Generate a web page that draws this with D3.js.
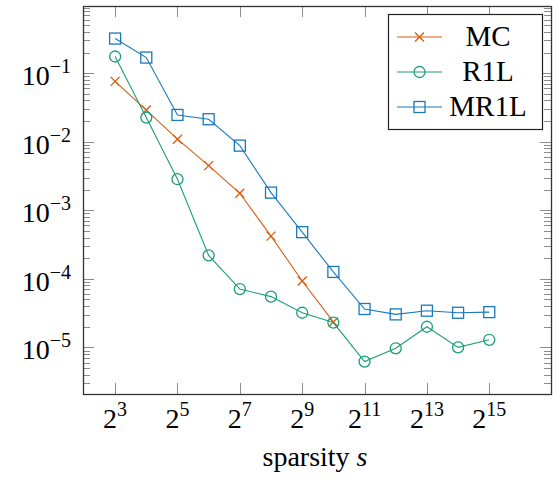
<!DOCTYPE html>
<html>
<head>
<meta charset="utf-8">
<script src="https://cdn.jsdelivr.net/npm/d3@7"></script>
<style>
  body { margin: 0; background: #fff; }
  text { font-family: "Liberation Serif", "DejaVu Serif", serif; fill: #000; }
</style>
</head>
<body>
<div id="chart"></div>
<script>
// error vs sparsity, log-log, three methods

var sparsity = [8, 16, 32, 64, 128, 256, 512, 1024, 2048, 4096, 8192, 16384, 32768];
var mcValues = [0.076, 0.029, 0.0109, 0.00448, 0.00177, 4.2e-4, 9.3e-5, 2.35e-5];
var r1lValues = [0.175, 0.0225, 0.00284, 2.2e-4, 7.1e-5, 5.5e-5, 3.2e-5, 2.3e-5, 6.2e-6, 9.7e-6, 2.0e-5, 1.0e-5, 1.29e-5];
var mr1lValues = [0.32, 0.169, 0.0246, 0.0213, 0.00877, 0.00181, 4.8e-4, 1.26e-4, 3.63e-5, 3.03e-5, 3.43e-5, 3.2e-5, 3.27e-5];
var xTickExps = [3, 5, 7, 9, 11, 13, 15];
var yTickExps = [-5, -4, -3, -2, -1];
var seriesNames = ['MC', 'R1L', 'MR1L'];

var width = 556;
var height = 479;
var plotLeft = 83, plotRight = 551, plotTop = 6, plotBottom = 394;
var colors = { MC: '#d95c12', R1L: '#1b9e77', MR1L: '#1a78bd' };

var svg = d3.select('#chart').append('svg')
      .attr('width', width)
      .attr('height', height)

var xScale = d3.scaleLog().base(2)
      .domain([Math.pow(2, 1.97), Math.pow(2, 16.98)])
      .range([plotLeft, plotRight])

var yScale = d3.scaleLog()
      .domain([Math.pow(10, -5.68), Math.pow(10, -0.02)])
      .range([plotBottom, plotTop])

// minor y ticks 2..9 x 10^k inside the domain
var yMinor = [];
for (let k = -6; k <= 0; k++) {
      for (let m = 2; m <= 9; m++) {
            let v = m * Math.pow(10, k);
            if (v > yScale.domain()[0] && v < yScale.domain()[1]) yMinor.push(v);
      }
}
var yMajor = yTickExps.map(e => Math.pow(10, e));
var xMajor = xTickExps.map(e => Math.pow(2, e));

var ticks = svg.append('g').attr('stroke', '#8c8c8c').attr('stroke-width', 1)

// y ticks, left and right, pointing inward
yMinor.forEach(function(v) {
      let y = Math.round(yScale(v)) + 0.5;
      ticks.append('line').attr('x1', plotLeft).attr('x2', plotLeft + 7).attr('y1', y).attr('y2', y)
      ticks.append('line').attr('x1', plotRight).attr('x2', plotRight - 7).attr('y1', y).attr('y2', y)
})
yMajor.forEach(function(v) {
      let y = Math.round(yScale(v)) + 0.5;
      ticks.append('line').attr('x1', plotLeft).attr('x2', plotLeft + 11).attr('y1', y).attr('y2', y)
      ticks.append('line').attr('x1', plotRight).attr('x2', plotRight - 11).attr('y1', y).attr('y2', y)
})
// x ticks, bottom and top
xMajor.forEach(function(v) {
      let x = Math.round(xScale(v)) + 0.5;
      ticks.append('line').attr('x1', x).attr('x2', x).attr('y1', plotBottom).attr('y2', plotBottom - 11)
      ticks.append('line').attr('x1', x).attr('x2', x).attr('y1', plotTop).attr('y2', plotTop + 11)
})

// frame
svg.append('rect')
      .attr('x', plotLeft + 0.5).attr('y', plotTop + 0.5)
      .attr('width', plotRight - plotLeft).attr('height', plotBottom - plotTop)
      .attr('fill', 'none')
      .attr('stroke', '#333')
      .attr('stroke-width', 1.3)

// y tick labels 10^k
yTickExps.forEach(function(e) {
      let t = svg.append('text')
            .attr('x', 71)
            .attr('y', yScale(Math.pow(10, e)) + 12)
            .attr('text-anchor', 'end')
            .style('font-size', '28px')
      t.append('tspan').text('10')
      t.append('tspan').attr('dy', -12).style('font-size', '20px').text('\u2212' + Math.abs(e))
})

// x tick labels 2^k
xTickExps.forEach(function(e) {
      let t = svg.append('text')
            .attr('x', xScale(Math.pow(2, e)))
            .attr('y', 428)
            .attr('text-anchor', 'middle')
            .style('font-size', '28px')
      t.append('tspan').text('2')
      t.append('tspan').attr('dy', -12).style('font-size', '20px').text(e)
})

// axis label
var xl = svg.append('text')
      .attr('x', (plotLeft + plotRight) / 2 - 2)
      .attr('y', 466)
      .attr('text-anchor', 'middle')
      .style('font-size', '28px')
xl.append('tspan').text('sparsity ')
xl.append('tspan').style('font-style', 'italic').text('s')

function drawMarker(g, name, x, y) {
      if (name === 'MC') {
            g.append('path')
                  .attr('d', 'M' + (x - 4.5) + ',' + (y - 4.5) + 'L' + (x + 4.5) + ',' + (y + 4.5) +
                        'M' + (x - 4.5) + ',' + (y + 4.5) + 'L' + (x + 4.5) + ',' + (y - 4.5))
                  .attr('stroke', colors[name]).attr('stroke-width', 1.3).attr('fill', 'none')
      } else if (name === 'R1L') {
            g.append('circle').attr('cx', x).attr('cy', y).attr('r', 5.5)
                  .attr('stroke', colors[name]).attr('stroke-width', 1.3).attr('fill', 'none')
      } else {
            g.append('rect').attr('x', x - 5.5).attr('y', y - 5.5).attr('width', 11).attr('height', 11)
                  .attr('stroke', colors[name]).attr('stroke-width', 1.3).attr('fill', 'none')
      }
}

var line = d3.line()
      .x(d => xScale(d[0]))
      .y(d => yScale(d[1]))

var seriesData = {
      MC: mcValues.map((v, i) => [sparsity[i], v]),
      R1L: r1lValues.map((v, i) => [sparsity[i], v]),
      MR1L: mr1lValues.map((v, i) => [sparsity[i], v])
};

seriesNames.forEach(function(name) {
      let g = svg.append('g')
      g.append('path')
            .datum(seriesData[name])
            .attr('d', line)
            .attr('fill', 'none')
            .attr('stroke', colors[name])
            .attr('stroke-width', 1.1)
      seriesData[name].forEach(d => drawMarker(g, name, xScale(d[0]), yScale(d[1])))
})

// legend
var legend = svg.append('g')
legend.append('rect')
      .attr('x', 388.5).attr('y', 14.5)
      .attr('width', 154).attr('height', 115)
      .attr('fill', '#fff')
      .attr('stroke', '#222')
      .attr('stroke-width', 1.2)
var legendY = [37, 72, 107];
seriesNames.forEach(function(name, i) {
      let y = legendY[i];
      legend.append('line')
            .attr('x1', 397).attr('x2', 442).attr('y1', y).attr('y2', y)
            .attr('stroke', colors[name]).attr('stroke-width', 1.1)
      drawMarker(legend, name, 419.5, y)
      legend.append('text')
            .attr('x', 488).attr('y', y + 9)
            .attr('text-anchor', 'middle')
            .style('font-size', '29px')
            .text(name)
})
</script>
</body>
</html>
